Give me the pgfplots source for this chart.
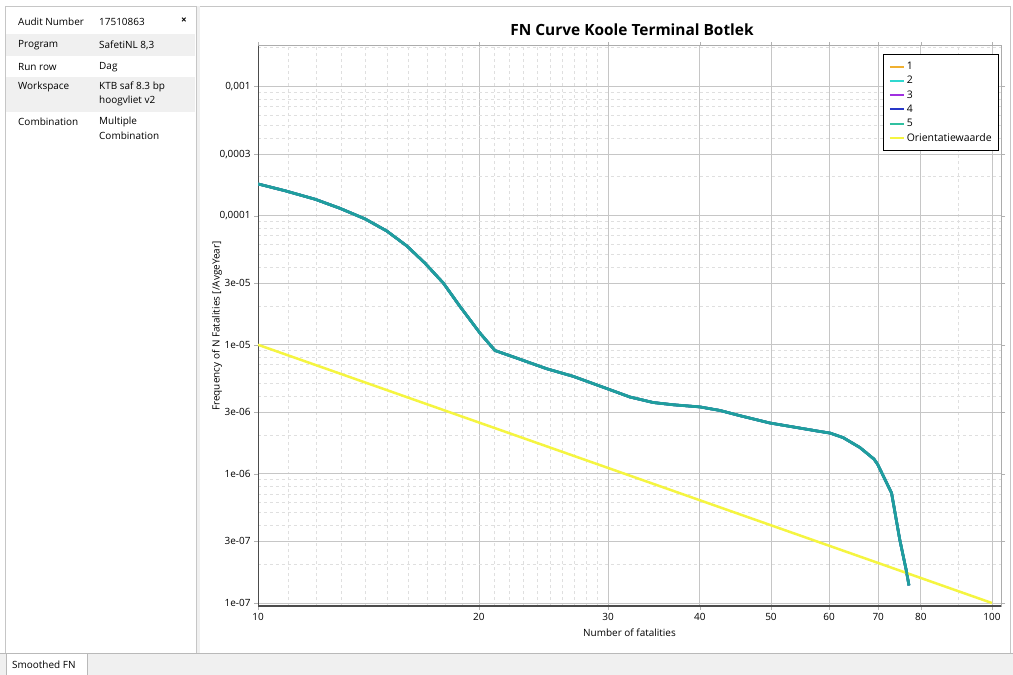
\documentclass[border=0pt]{standalone}
\usepackage{pgfplots}
\pgfplotsset{compat=1.18}
\usepackage{pgfplotstable}
\usepackage{fontspec}
\setmainfont{Open Sans}

\definecolor{c1}{HTML}{F0B030}
\definecolor{c2}{HTML}{30D8D0}
\definecolor{c3}{HTML}{A030E0}
\definecolor{c4}{HTML}{2838C8}
\definecolor{c5}{HTML}{30C0A0}
\definecolor{cy}{HTML}{F5F540}
\definecolor{cv}{HTML}{1F9E9E}
\definecolor{panelgray}{HTML}{F0F0F0}

\pgfplotstableread{
N F
10 1.76e-4
10.88 1.56e-4
11.96 1.34e-4
12.93 1.14e-4
13.99 9.44e-5
14.97 7.62e-5
15.95 5.83e-5
16.89 4.28e-5
17.89 3.0e-5
18.85 1.98e-5
20.07 1.23e-5
21.03 9.03e-6
22.51 7.89e-6
24.74 6.52e-6
26.89 5.69e-6
30.0 4.54e-6
32.12 3.94e-6
34.56 3.57e-6
36.8 3.43e-6
40.02 3.30e-6
42.6 3.10e-6
45.4 2.82e-6
49.8 2.48e-6
53.6 2.31e-6
58.3 2.13e-6
60.2 2.07e-6
62.7 1.91e-6
66.1 1.60e-6
69.1 1.30e-6
69.9 1.18e-6
73.0 7.11e-7
74.9 3.10e-7
76.4 1.82e-7
77.1 1.37e-7
}\fn

\pgfplotstableread{
N F
10 1e-5
100 1e-7
}\orient

\begin{document}
\begin{tikzpicture}[x=1bp,y=1bp,font=\fontsize{10}{12}\selectfont]
\useasboundingbox (0,0) rectangle (1013,675);
\fill[white] (0,0) rectangle (1013,675);
% bottom tab bar
\fill[panelgray] (0,0) rectangle (1013,22);
\draw[gray!55] (0,22) -- (1013,22);
\filldraw[fill=white,draw=gray!55] (6,0) rectangle (87,22);
\node[anchor=west,inner sep=0] at (12,10) {Smoothed FN};
% frames
\draw[gray!45] (5,669) -- (1010,669);
\draw[gray!45] (5,669) -- (5,22);
\draw[gray!45] (1010,669) -- (1010,22);
\fill[gray!12] (196,669) rectangle (200,22);
\draw[gray!45] (196,669) -- (196,22);
% side panel rows
\fill[panelgray] (6,641) rectangle (195,619);
\fill[panelgray] (6,598) rectangle (195,563);
\begin{scope}[every node/.style={anchor=west,inner sep=0}]
\node at (18,653) {Audit Number};
\node at (99,653) {17510863};
\node at (181,654) {\bfseries ×};
\node at (18,630) {Program};
\node at (99,630) {SafetiNL 8,3};
\node at (18,608) {Run row};
\node at (99,608) {Dag};
\node at (18,588) {Workspace};
\node at (99,588) {KTB saf 8.3 bp};
\node at (99,574) {hoogvliet v2};
\node at (18,553) {Combination};
\node at (99,553) {Multiple};
\node at (99,539) {Combination};
\end{scope}
% title
\node at (632,645) {\fontsize{15.5}{18}\selectfont\bfseries FN Curve Koole Terminal Botlek};

\begin{axis}[
  at={(258bp,69bp)}, anchor=south west,
  width=743bp, height=560bp, scale only axis,
  xmode=log, ymode=log,
  xmin=10, xmax=102.9, ymin=9.48e-8, ymax=2.06e-3,
  xtick={10,20,30,40,50,60,70,80,100},
  xticklabels={10,20,30,40,50,60,70,80,100},
  minor xtick={11,12,13,14,15,16,17,18,19,21,22,23,24,25,26,27,28,29,90},
  ytick={1e-7,3e-7,1e-6,3e-6,1e-5,3e-5,1e-4,3e-4,1e-3},
  yticklabels={1e-07,3e-07,1e-06,3e-06,1e-05,3e-05,{0,0001},{0,0003},{0,001}},
  minor ytick={2e-7,4e-7,5e-7,6e-7,7e-7,8e-7,9e-7,2e-6,4e-6,5e-6,6e-6,7e-6,8e-6,9e-6,2e-5,4e-5,5e-5,6e-5,7e-5,8e-5,9e-5,2e-4,4e-4,5e-4,6e-4,7e-4,8e-4,9e-4,2e-3},
  grid=both,
  major grid style={gray!45, line width=0.8bp},
  minor grid style={gray!25, dashed, line width=0.6bp},
  axis line style={gray!65, line width=1bp},
  tick align=outside,
  major tick length=4bp, minor tick length=0pt,
  tick style={gray!60},
  tick label style={font=\fontsize{10}{12}\selectfont},
  /pgf/number format/assume math mode=true,
  xlabel={Number of fatalities},
  ylabel={Frequency of N Fatalities [/AvgeYear]},
  xlabel style={at={(axis description cs:0.5,-0.048)}, anchor=center, font=\fontsize{10}{12}\selectfont},
  ylabel style={at={(axis description cs:-0.0552,0.5)}, anchor=center, font=\fontsize{10}{12}\selectfont},
  legend style={at={(0.9975,0.986)}, anchor=north east, draw=black, line width=0.8bp,
    font=\fontsize{10.5}{12}\selectfont, row sep=1.2bp, inner xsep=5bp, inner ysep=6bp,
    cells={anchor=west}},
  legend image code/.code={\draw[#1, line width=2bp] (0bp,0bp) -- (14bp,0bp);},
]
\draw[black!70, line width=1.5bp] (rel axis cs:0,1) -- (rel axis cs:0,0) -- (rel axis cs:1,0);
\addplot[c1, line width=2.5bp] table[x=N,y=F] {\fn};
\addlegendentry{1}
\addplot[c2, line width=2.5bp] table[x=N,y=F] {\fn};
\addlegendentry{2}
\addplot[c3, line width=2.5bp] table[x=N,y=F] {\fn};
\addlegendentry{3}
\addplot[c4, line width=2.5bp] table[x=N,y=F] {\fn};
\addlegendentry{4}
\addplot[c5, line width=2.5bp] table[x=N,y=F] {\fn};
\addlegendentry{5}
\addplot[cy, line width=2.5bp] table[x=N,y=F] {\orient};
\addlegendentry{Orientatiewaarde}
\addplot[cv, line width=2.8bp, forget plot] table[x=N,y=F] {\fn};
\end{axis}
\end{tikzpicture}
\end{document}
